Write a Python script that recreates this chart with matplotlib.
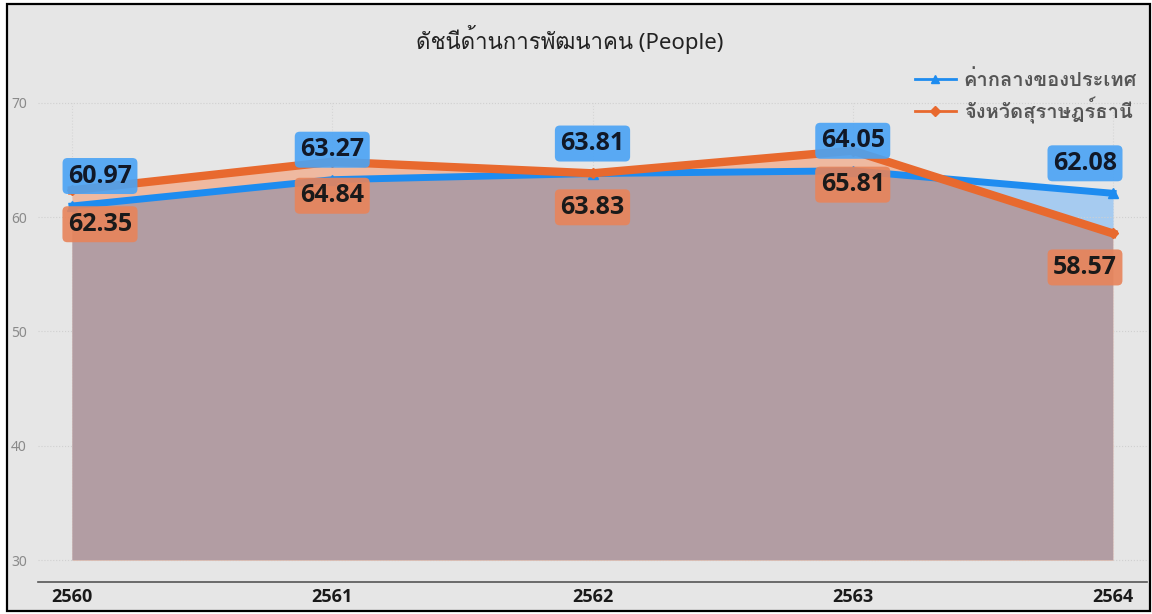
import matplotlib
matplotlib.use("Agg")
import matplotlib.pyplot as plt
from matplotlib import font_manager, ft2font
from matplotlib.patches import Rectangle
from matplotlib.lines import Line2D
import numpy as np

years = [2560, 2561, 2562, 2563, 2564]
national = [60.97, 63.27, 63.81, 64.05, 62.08]
province = [62.35, 64.84, 63.83, 65.81, 58.57]
title = "ดัชนีด้านการพัฒนาคน (People)"
name_national = "ค่ากลางของประเทศ"
name_province = "จังหวัดสุราษฎร์ธานี"
yticks = [30, 40, 50, 60, 70]


def thai_font():
    # find any installed font that has Thai glyphs
    for f in font_manager.fontManager.ttflist:
        try:
            if 0x0E14 in ft2font.FT2Font(f.fname).get_charmap():
                return f.name
        except Exception:
            pass
    return "DejaVu Sans"


def bold_font(cands):
    for c in cands:
        for f in font_manager.fontManager.ttflist:
            w = f.weight
            if isinstance(w, str):
                w = {"bold": 700, "semibold": 600, "demibold": 600}.get(w, 400)
            if f.name == c and w >= 600 and f.style == "normal":
                return c
    return "DejaVu Sans"


TH = thai_font()
BF = bold_font(["Open Sans", "Noto Sans", "Roboto", "Lato"])
plt.rcParams["font.family"] = ["Noto Sans", TH, "DejaVu Sans"]

BLUE = "#1e8cf0"
ORANGE = "#e8692e"
W, H = 1152, 614
fig = plt.figure(figsize=(W / 100, H / 100), dpi=100, facecolor="white")
fig.patches.append(Rectangle((7 / W, 3 / H), 1143 / W, 607 / H, transform=fig.transFigure,
                             facecolor="#e6e6e6", edgecolor="black", linewidth=1.6, zorder=-5))

ax = fig.add_axes([38 / W, (H - 582) / H, (1147 - 38) / W, (582 - 60) / H])
ax.set_facecolor("none")
x = np.array(years, dtype=float)
yn = np.array(national)
yp = np.array(province)

ax.set_xlim(2560 - 34 / 260.25, 2564 + 34 / 260.25)
ax.set_ylim(30 - 22 / 11.5, 70 + 43 / 11.5)

# fills: national only, province only, overlap
fn = ax.fill_between(x, 30, yn, color="#a6cbf0", lw=0, zorder=1)
fp = ax.fill_between(x, 30, yp, color="#efb9a0", lw=0, zorder=2)
fo = ax.fill_between(x, 30, yn, color="#b29da3", lw=0, zorder=3)
fo.set_clip_path(fp.get_paths()[0], transform=ax.transData)

ax.plot(x, yn, color=BLUE, lw=5, marker="^", ms=7, zorder=4, solid_joinstyle="miter")
ax.plot(x, yp, color=ORANGE, lw=6, marker="D", ms=5, zorder=5)

xoff = [28, 0, 0, 0, -28]
for i in range(len(years)):
    ax.annotate(f"{national[i]:.2f}", (x[i], yn[i]), xytext=(xoff[i] * 0.72, 30 * 0.72),
                textcoords="offset points", ha="center", va="center", fontsize=18,
                fontweight="bold", family=BF, color="#111827", zorder=7,
                bbox=dict(boxstyle="round,pad=0.22,rounding_size=0.2", fc="#4aa3f5",
                          ec="none", alpha=0.9))
    ax.annotate(f"{province[i]:.2f}", (x[i], yp[i]), xytext=(xoff[i] * 0.72, -34 * 0.72),
                textcoords="offset points", ha="center", va="center", fontsize=18,
                fontweight="bold", family=BF, color="#1a1a1a", zorder=6,
                bbox=dict(boxstyle="round,pad=0.22,rounding_size=0.2", fc="#e8845a",
                          ec="none", alpha=0.9))

ax.set_xticks(years)
ax.set_xticklabels([str(y) for y in years], fontsize=13, fontweight="bold", family=BF,
                   color="#1a1a1a")
ax.set_yticks(yticks)
ax.set_yticklabels([str(t) for t in yticks], fontsize=10, color="#8a8a8a")
ax.tick_params(axis="both", length=0)
ax.tick_params(axis="y", pad=8)
ax.tick_params(axis="x", pad=4)
for s in ["top", "right", "left"]:
    ax.spines[s].set_visible(False)
ax.spines["bottom"].set_color("#555555")
ax.spines["bottom"].set_linewidth(1.2)
ax.grid(True, axis="y", linestyle=":", color="#d0d0d0", lw=0.8, zorder=0)
ax.vlines(years, 30, 70, linestyles=":", colors="#d6d6d6", lw=0.8, zorder=0)

fig.text(570 / W, 1 - 40 / H, title, ha="center", va="center", fontsize=16,
         color="#222222")

handles = [Line2D([], [], color=BLUE, lw=2, marker="^", ms=6),
           Line2D([], [], color=ORANGE, lw=2, marker="D", ms=5)]
leg = ax.legend(handles, [name_national, name_province], loc="upper right",
                bbox_to_anchor=(1.0, 1.0), frameon=False,
                prop=dict(family=[TH, "Noto Sans"], size=14.5, weight="bold"),
                handlelength=2.0, handletextpad=0.4, labelspacing=0.35, borderaxespad=0.1)
for t in leg.get_texts():
    t.set_color("#555555")

fig.savefig("out.png", dpi=100, facecolor="white")
